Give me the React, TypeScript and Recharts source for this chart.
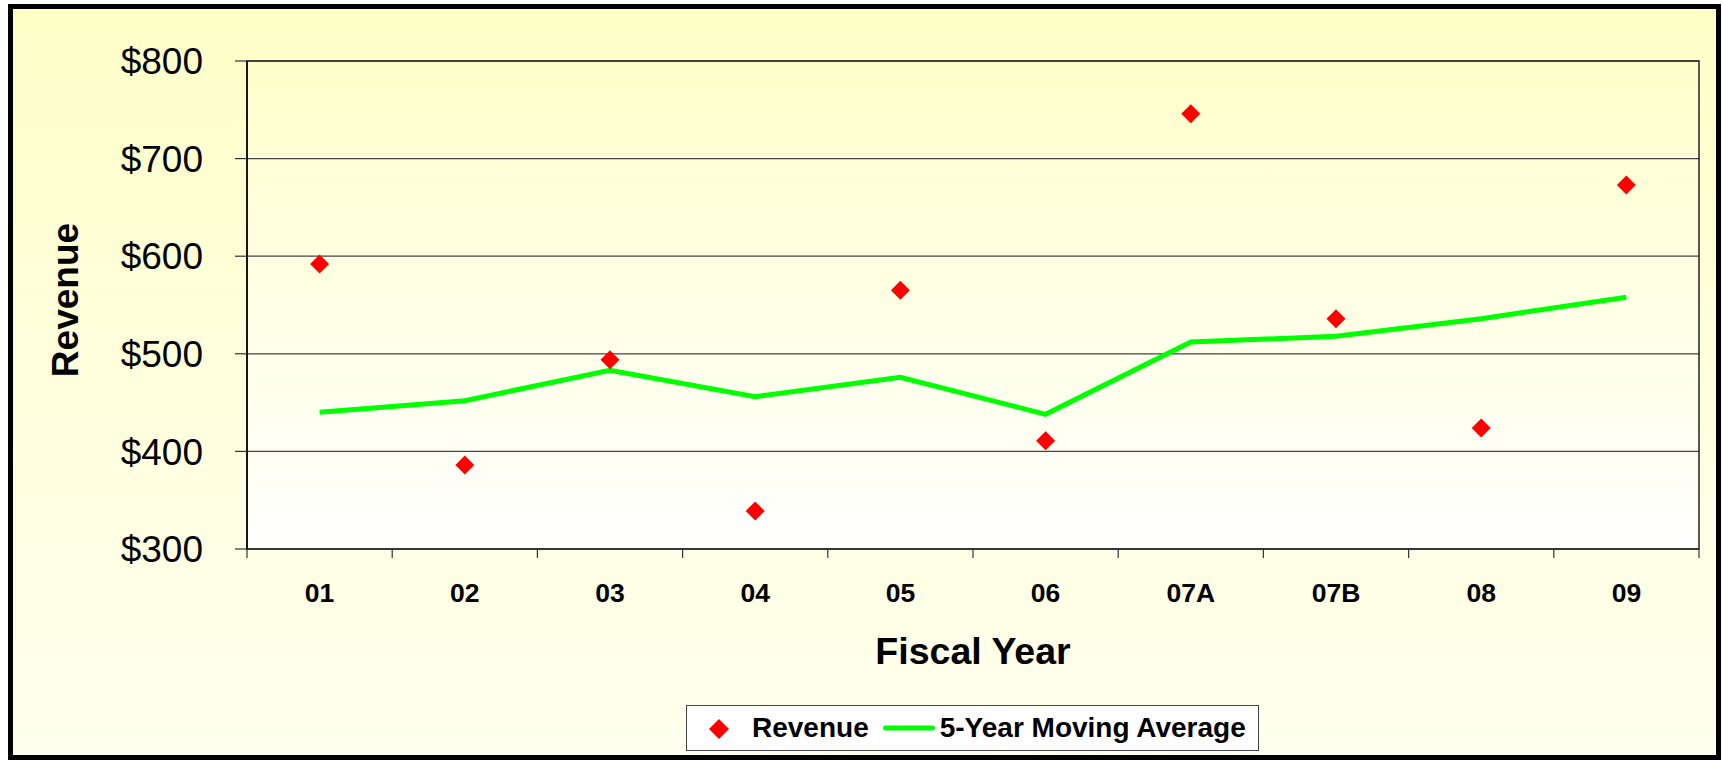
import React from 'react'
import { ComposedChart, Line, Scatter, XAxis, YAxis, CartesianGrid, ReferenceArea, Legend } from 'recharts'

const years = ['01', '02', '03', '04', '05', '06', '07A', '07B', '08', '09']
const revenue = [592, 386, 494, 339, 565, 411, 746, 536, 424, 673]
const movingAvg = [440, 452, 483, 456, 476, 438, 512, 518, 536, 558]
const yTicks = [300, 400, 500, 600, 700, 800]
const seriesNames = { revenue: 'Revenue', avg: '5-Year Moving Average' }

const data = years.map((year, i) => ({ year, revenue: revenue[i], avg: movingAvg[i] }))

const FONT = '"Liberation Sans", Arial, Helvetica, sans-serif'
const W = 1722
const H = 760
const PLOT_LEFT = 247
const PLOT_RIGHT = 1699
const HALF_BAND = (PLOT_RIGHT - PLOT_LEFT) / years.length / 2

function Diamond({ cx, cy }: any) {
  const r = 9.5
  return <polygon points={`${cx},${cy - r} ${cx + r},${cy} ${cx},${cy + r} ${cx - r},${cy}`} fill="#FF0000" />
}

function YearTick({ x, y, payload }: any) {
  const last = payload.value === years[years.length - 1]
  return (
    <g>
      <line x1={x - HALF_BAND} y1={y} x2={x - HALF_BAND} y2={y + 9} stroke="#333" strokeWidth={1.2} />
      {last && <line x1={x + HALF_BAND} y1={y} x2={x + HALF_BAND} y2={y + 9} stroke="#333" strokeWidth={1.2} />}
      <text x={x} y={y + 53} textAnchor="middle" fontFamily={FONT} fontWeight="bold" fontSize={26.5} fill="#000">
        {payload.value}
      </text>
    </g>
  )
}

function LegendBox({ payload }: any) {
  const items = [...(payload || [])].sort((a: any, b: any) => (a.dataKey === 'revenue' ? -1 : b.dataKey === 'revenue' ? 1 : 0))
  return (
    <div
      style={{
        display: 'flex',
        alignItems: 'center',
        width: '100%',
        height: '100%',
        boxSizing: 'border-box',
        border: '1.5px solid #444',
        background: '#FFFFFF',
        fontFamily: FONT,
        fontWeight: 'bold',
        fontSize: 28,
        color: '#000',
        whiteSpace: 'nowrap',
      }}
    >
      {items.map((entry: any) =>
        entry.dataKey === 'revenue' ? (
          <React.Fragment key="rev">
            <svg width={20} height={20} style={{ marginLeft: 22, marginTop: 2 }}>
              <polygon points="10,0 20,10 10,20 0,10" fill="#FF0000" />
            </svg>
            <span style={{ marginLeft: 23 }}>{entry.value}</span>
          </React.Fragment>
        ) : (
          <React.Fragment key="avg">
            <svg width={52} height={8} style={{ marginLeft: 14 }}>
              <line x1={2.5} y1={4} x2={49.5} y2={4} stroke="#00FF00" strokeWidth={5} strokeLinecap="round" />
            </svg>
            <span style={{ marginLeft: 5 }}>{entry.value}</span>
          </React.Fragment>
        )
      )}
    </div>
  )
}

export default function App() {
  return (
    <div style={{ position: 'absolute', left: 0, top: 0, width: W, height: H, overflow: 'hidden' }}>
      <div
        style={{
          position: 'absolute',
          left: 8,
          top: 4,
          width: 1713,
          height: 756,
          boxSizing: 'border-box',
          border: '5px solid #000',
          background: 'linear-gradient(to bottom, #FFFFC8 0%, #FFFFDC 45%, #FFFFEE 100%)',
        }}
      />
      <div style={{ position: 'absolute', left: 0, top: 0 }}>
        <ComposedChart width={W} height={H} data={data} margin={{ top: 61, right: W - PLOT_RIGHT, left: 0, bottom: 0 }}>
          <defs>
            <linearGradient id="plotBg" x1="0" y1="0" x2="0" y2="1">
              <stop offset="0%" stopColor="#FFFFCC" />
              <stop offset="100%" stopColor="#FFFFFF" />
            </linearGradient>
          </defs>
          <CartesianGrid vertical={false} stroke="#444" strokeWidth={1.2} fill="url(#plotBg)" fillOpacity={1} />
          <XAxis
            dataKey="year"
            scale="band"
            height={H - 549}
            axisLine={{ stroke: '#333', strokeWidth: 1.5 }}
            tickLine={false}
            tickSize={0}
            tickMargin={0}
            interval={0}
            tick={<YearTick />}
            label={{
              content: () => (
                <text x={973} y={664} textAnchor="middle" fontFamily={FONT} fontWeight="bold" fontSize={37.5} fill="#000">
                  Fiscal Year
                </text>
              ),
            }}
          />
          <YAxis
            width={PLOT_LEFT}
            domain={[300, 800]}
            ticks={yTicks}
            interval={0}
            tickFormatter={(v) => `$${v}`}
            tickSize={12}
            tickMargin={32}
            axisLine={{ stroke: '#000', strokeWidth: 1.5 }}
            tickLine={{ stroke: '#333', strokeWidth: 1.2 }}
            tick={{ fill: '#000', fontSize: 37, fontFamily: FONT }}
            label={{
              content: () => (
                <text x={78} y={300} transform="rotate(-90 78 300)" textAnchor="middle" fontFamily={FONT} fontWeight="bold" fontSize={37} fill="#000">
                  Revenue
                </text>
              ),
            }}
          />
          <ReferenceArea y1={300} y2={800} fill="none" stroke="#222" strokeWidth={1.5} ifOverflow="visible" />
          <Line
            dataKey="avg"
            name={seriesNames.avg}
            type="linear"
            stroke="#00FF00"
            strokeWidth={5}
            dot={false}
            activeDot={false}
            isAnimationActive={false}
          />
          <Scatter dataKey="revenue" name={seriesNames.revenue} fill="#FF0000" shape={<Diamond />} isAnimationActive={false} />
          <Legend
            layout="horizontal"
            verticalAlign="middle"
            align="center"
            wrapperStyle={{ position: 'absolute', left: 686, top: 705, width: 573, height: 46 }}
            content={<LegendBox />}
          />
        </ComposedChart>
      </div>
    </div>
  )
}
